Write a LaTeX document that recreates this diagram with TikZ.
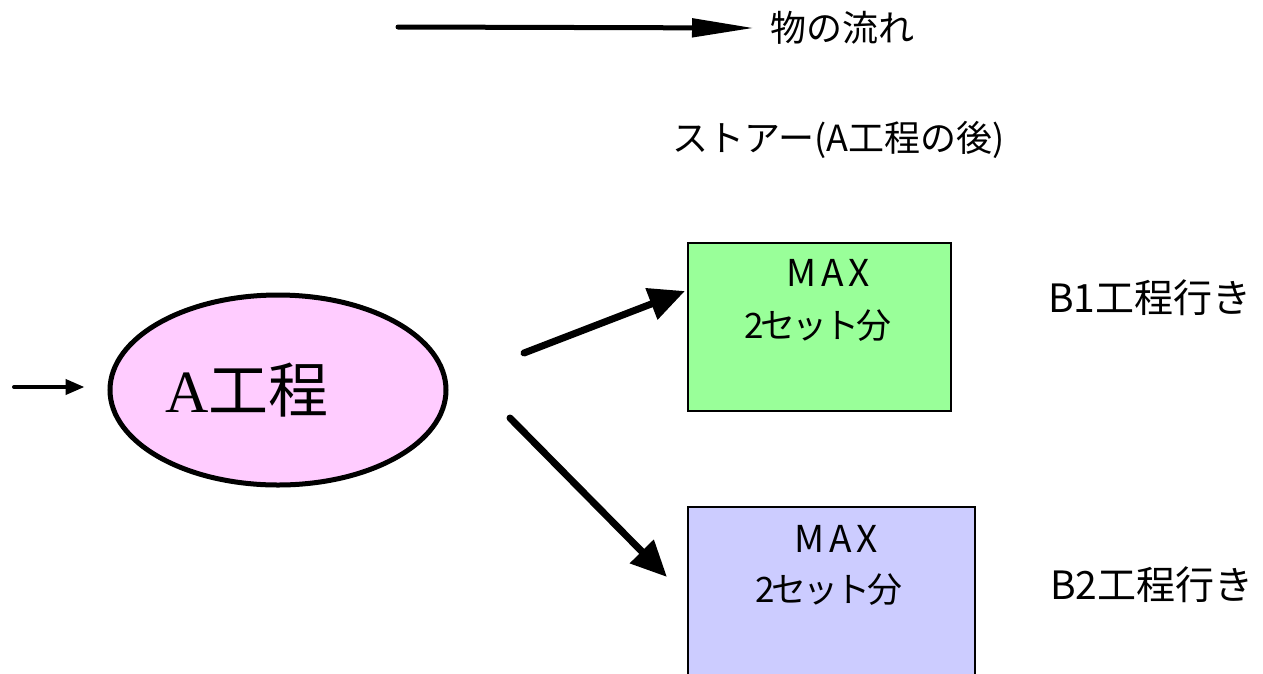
\documentclass[tikz,border=0pt]{standalone}
\usepackage{fontspec}
\setmainfont{Noto Sans CJK JP}
\newfontfamily\serifA{Liberation Serif}
\usetikzlibrary{arrows.meta,shapes.geometric}
\definecolor{boxgreen}{HTML}{99FF99}
\definecolor{boxblue}{HTML}{CCCCFF}
\definecolor{ellpink}{HTML}{FFCCFF}
\newcommand{\setsbun}{2\hspace{-3pt}セ\hspace{-3pt}ッ\hspace{-3pt}ト\hspace{-3pt}分}
\tikzset{
  lbl/.style={inner sep=0pt, anchor=west},
  flow/.style={line width=7pt, line cap=round, -{Triangle[length=36pt,width=32pt]}},
  storebox/.style={draw=black, line width=1.5pt, anchor=north west, inner sep=0pt},
  maxtxt/.style={font=\fontsize{37}{40}\selectfont, inner sep=0pt},
  settxt/.style={font=\fontsize{35}{38}\selectfont, inner sep=0pt},
}
\begin{document}
\begin{tikzpicture}[x=1pt,y=-1pt]
\useasboundingbox (0,0) rectangle (1263,673);
\clip (0,0) rectangle (1263,673);
% legend
\coordinate (lgs) at (398,27);
\node[lbl,font=\fontsize{36}{40}\selectfont] (lgt) at (770,28) {物の流れ};
\draw[line width=5pt, line cap=round, -{Triangle[length=62pt,width=18pt]}] (lgs) -- ([xshift=-16pt]lgt.west);
% store title
\node[lbl,font=\fontsize{36}{40}\selectfont] (st) at (672,140) {ストアー(A工程の後)};
% boxes
\node[storebox, fill=boxgreen, minimum width=263pt, minimum height=168pt] (b1) at (687,242) {};
\node[storebox, fill=boxblue, minimum width=287pt, minimum height=200pt] (b2) at (687,506) {};
\node[maxtxt] (b1m) at (828,273) {M\hspace{5pt}A\hspace{5pt}X};
\node[settxt] (b1s) at (818,326) {\setsbun};
\node[maxtxt] (b2m) at (836,539) {M\hspace{5pt}A\hspace{5pt}X};
\node[settxt] (b2s) at (829,590) {\setsbun};
% labels
\node[lbl,font=\fontsize{39}{44}\selectfont] (l1) at (1048,298) {B1工程行き};
\node[lbl,font=\fontsize{39}{44}\selectfont] (l2) at (1050,585) {B2工程行き};
% ellipse
\node[ellipse, draw=black, line width=5pt, fill=ellpink, minimum width=336pt, minimum height=190pt, inner sep=0pt] (A) at (278,390) {};
\node[font=\fontsize{60}{64}\selectfont, inner sep=0pt] (At) at (247,390) {{\serifA A}工程};
% entry arrow
\coordinate (in) at (14,387);
\draw[line width=4pt, line cap=round, -{Triangle[length=19pt,width=15pt]}] (in) -- ([xshift=-23pt]A.west |- in);
% flow arrows
\coordinate (a1s) at (524,353);
\coordinate (a1e) at (685,291);
\coordinate (a2s) at (510,418);
\coordinate (a2e) at (667,577);
\draw[flow] (a1s) -- (a1e);
\draw[flow] (a2s) -- (a2e);
\end{tikzpicture}
\end{document}
